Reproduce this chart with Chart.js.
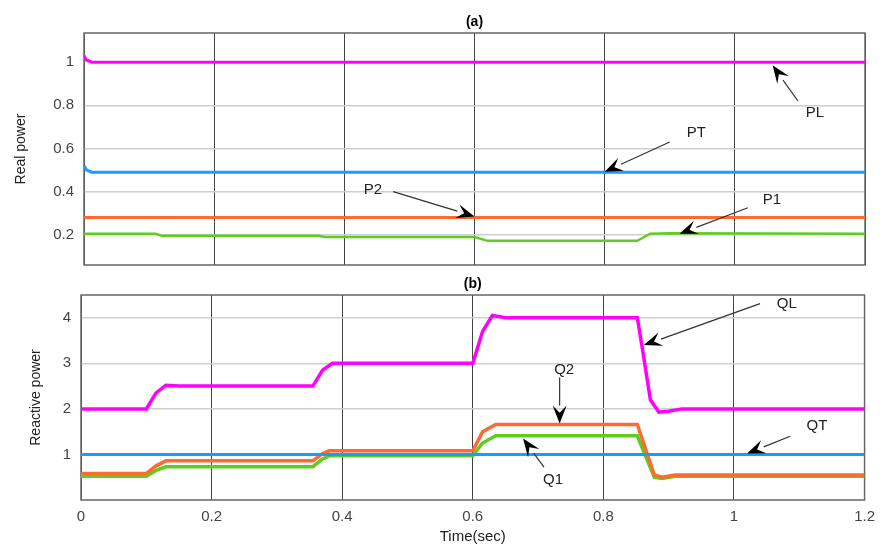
<!DOCTYPE html>
<html>
<head>
<meta charset="utf-8">
<script src="https://cdn.jsdelivr.net/npm/chart.js@4"></script>
<style>
  body { margin: 0; background: #fff; }
  #wrap { position: relative; width: 883px; height: 546px; }
  #chartA { position: absolute; left: 0; top: 0; }
  #chartB { position: absolute; left: 0; top: 270px; }
</style>
</head>
<body>
<div id="wrap">
  <canvas id="chartA" width="883" height="270"></canvas>
  <canvas id="chartB" width="883" height="276"></canvas>
</div>
<script>
// --- Data ---
const xTicks = [0, 0.2, 0.4, 0.6, 0.8, 1, 1.2];
const yTicksA = [0.2, 0.4, 0.6, 0.8, 1];
const yTicksB = [1, 2, 3, 4];

// (a) real power
const plT = [0, 0.004, 0.012, 1.2];
const plV = [1.03, 1.01, 1.0, 1.0];
const ptT = [0, 0.004, 0.012, 1.2];
const ptV = [0.52, 0.50, 0.49, 0.49];
const p2T = [0, 1.2];
const p2V = [0.28, 0.28];
const p1T = [0, 0.11, 0.12, 0.36, 0.37, 0.6, 0.62, 0.85, 0.87, 0.9, 1.2];
const p1V = [0.205, 0.205, 0.195, 0.195, 0.19, 0.19, 0.172, 0.172, 0.205, 0.207, 0.205];

// (b) reactive power
const qlT = [0, 0.1, 0.115, 0.13, 0.15, 0.355, 0.37, 0.385, 0.6, 0.615, 0.63, 0.65, 0.852, 0.86, 0.872, 0.885, 0.9, 0.92, 1.2];
const qlV = [2.0, 2.0, 2.35, 2.52, 2.5, 2.5, 2.85, 3.0, 3.0, 3.7, 4.05, 4.0, 4.0, 3.3, 2.2, 1.93, 1.95, 2.0, 2.0];
const qtT = [0, 1.2];
const qtV = [1.0, 1.0];
const q2T = [0, 0.1, 0.115, 0.13, 0.355, 0.37, 0.38, 0.6, 0.615, 0.635, 0.852, 0.865, 0.878, 0.89, 0.91, 1.2];
const q2V = [0.58, 0.58, 0.75, 0.86, 0.86, 1.02, 1.08, 1.08, 1.5, 1.66, 1.66, 1.1, 0.55, 0.5, 0.55, 0.55];
const q1T = [0, 0.1, 0.115, 0.13, 0.355, 0.37, 0.38, 0.6, 0.615, 0.635, 0.852, 0.865, 0.878, 0.89, 0.91, 1.2];
const q1V = [0.52, 0.52, 0.65, 0.73, 0.73, 0.9, 0.97, 0.97, 1.25, 1.41, 1.41, 0.95, 0.5, 0.47, 0.52, 0.52];

// labels + arrows: [text, labelX, labelY, tailX, tailY, headX, headY] in data units
const notesA = [
  ['PL', 1.123, 0.765, 1.097, 0.82, 1.058, 0.985],
  ['PT', 0.941, 0.67, 0.9, 0.63, 0.80, 0.492],
  ['P2', 0.444, 0.41, 0.475, 0.40, 0.60, 0.285],
  ['P1', 1.057, 0.36, 1.02, 0.325, 0.915, 0.205]
];
const notesB = [
  ['QL', 1.081, 4.31, 1.04, 4.31, 0.862, 3.4],
  ['QT', 1.127, 1.62, 1.086, 1.4, 1.02, 1.02],
  ['Q2', 0.74, 2.86, 0.733, 2.69, 0.733, 1.68],
  ['Q1', 0.723, 0.45, 0.709, 0.72, 0.677, 1.35]
];

const COLORS = { mag: '#ff00ff', blue: '#1a9bff', orange: '#ff6a30', green: '#5fcc20' };
const FONT = "'Liberation Sans', Arial, sans-serif";

function pts(t, v) { return t.map((x, i) => ({ x: x, y: v[i] })); }

function series(t, v, color, width) {
  return { data: pts(t, v), borderColor: color, borderWidth: width, pointRadius: 0, tension: 0, fill: false };
}

// --- Plugins ---
const frame = {
  id: 'frame',
  beforeDatasetsDraw(chart) {
    const a = chart.chartArea, ctx = chart.ctx;
    ctx.save();
    ctx.strokeStyle = '#666';
    ctx.lineWidth = 1.5;
    ctx.strokeRect(a.left, a.top, a.right - a.left, a.bottom - a.top);
    ctx.restore();
  },
  afterDraw(chart, args, opts) {
    const a = chart.chartArea, ctx = chart.ctx;
    ctx.save();
    ctx.fillStyle = '#000';
    ctx.font = 'bold 14px ' + FONT;
    ctx.textAlign = 'center';
    ctx.textBaseline = 'bottom';
    ctx.fillText(opts.title, (a.left + a.right) / 2, a.top - 4);
    ctx.restore();
  }
};

const arrows = {
  id: 'arrows',
  afterDatasetsDraw(chart, args, opts) {
    const ctx = chart.ctx, xs = chart.scales.x, ys = chart.scales.y;
    ctx.save();
    opts.notes.forEach(n => {
      const lx = xs.getPixelForValue(n[1]), ly = ys.getPixelForValue(n[2]);
      const tx = xs.getPixelForValue(n[3]), ty = ys.getPixelForValue(n[4]);
      const hx = xs.getPixelForValue(n[5]), hy = ys.getPixelForValue(n[6]);
      ctx.fillStyle = '#222';
      ctx.font = '15px ' + FONT;
      ctx.textAlign = 'center';
      ctx.textBaseline = 'middle';
      ctx.fillText(n[0], lx, ly);
      // shaft
      const ang = Math.atan2(hy - ty, hx - tx);
      const len = 18, half = 7;
      const bx = hx - len * Math.cos(ang), by = hy - len * Math.sin(ang);
      ctx.strokeStyle = '#333';
      ctx.lineWidth = 1.2;
      ctx.beginPath();
      ctx.moveTo(tx, ty);
      ctx.lineTo(bx, by);
      ctx.stroke();
      // head
      ctx.fillStyle = '#000';
      ctx.beginPath();
      ctx.moveTo(hx, hy);
      ctx.lineTo(bx + half * Math.sin(ang), by - half * Math.cos(ang));
      ctx.lineTo(hx - 0.6 * len * Math.cos(ang), hy - 0.6 * len * Math.sin(ang));
      ctx.lineTo(bx - half * Math.sin(ang), by + half * Math.cos(ang));
      ctx.closePath();
      ctx.fill();
    });
    ctx.restore();
  }
};

function fixTicks(list) {
  return scale => { scale.ticks = list.map(v => ({ value: v })); };
}

function fmt(v) { return String(+v.toFixed(1)); }

// y axis: fixed width and no label overflow padding, so the plot box lands where it should
function yFit(w) {
  return s => { s.width = w; s.paddingTop = 0; s.paddingBottom = 0; };
}

// --- Chart (a) ---
new Chart(document.getElementById('chartA'), {
  type: 'line',
  data: {
    datasets: [
      series(plT, plV, COLORS.mag, 3),
      series(ptT, ptV, COLORS.blue, 3),
      series(p2T, p2V, COLORS.orange, 3),
      series(p1T, p1V, COLORS.green, 2.5)
    ]
  },
  options: {
    responsive: false,
    animation: false,
    layout: { padding: { top: 33, right: 18, left: 0, bottom: 0 } },
    plugins: {
      legend: { display: false },
      tooltip: { enabled: false },
      frame: { title: '(a)' },
      arrows: { notes: notesA }
    },
    scales: {
      x: {
        type: 'linear', min: 0, max: 1.2,
        afterBuildTicks: fixTicks(xTicks),
        afterFit: s => { s.height = 5; s.paddingLeft = 0; s.paddingRight = 0; },
        ticks: { display: false },
        grid: { color: '#444', lineWidth: 1, drawTicks: false },
        border: { display: false }
      },
      y: {
        min: 0.06, max: 1.135,
        afterBuildTicks: fixTicks(yTicksA),
        afterFit: yFit(84),
        ticks: { color: '#444', font: { family: FONT, size: 15 }, padding: 10, callback: v => fmt(v) },
        grid: { color: '#cfcfcf', lineWidth: 1.5, drawTicks: false },
        border: { display: false },
        title: { display: true, text: 'Real power', color: '#222', font: { family: FONT, size: 14 }, padding: { top: 13, bottom: 0 } }
      }
    }
  },
  plugins: [frame, arrows]
});

// --- Chart (b) ---
new Chart(document.getElementById('chartB'), {
  type: 'line',
  data: {
    datasets: [
      series(qlT, qlV, COLORS.mag, 3.5),
      series(qtT, qtV, COLORS.blue, 3),
      series(q2T, q2V, COLORS.orange, 3.5),
      series(q1T, q1V, COLORS.green, 3.5)
    ]
  },
  options: {
    responsive: false,
    animation: false,
    layout: { padding: { top: 25, right: 15, left: 0, bottom: 0 } },
    plugins: {
      legend: { display: false },
      tooltip: { enabled: false },
      frame: { title: '(b)' },
      arrows: { notes: notesB }
    },
    scales: {
      x: {
        type: 'linear', min: 0, max: 1.2,
        afterBuildTicks: fixTicks(xTicks),
        afterFit: s => { s.height = 46; },
        ticks: { color: '#444', font: { family: FONT, size: 15 }, padding: 8, maxRotation: 0, callback: v => fmt(v) },
        grid: { color: '#444', lineWidth: 1, drawTicks: false },
        border: { display: false },
        title: { display: true, text: 'Time(sec)', color: '#222', font: { family: FONT, size: 15 }, padding: { top: 0, bottom: 0 } }
      },
      y: {
        min: 0, max: 4.5,
        afterBuildTicks: fixTicks(yTicksB),
        afterFit: yFit(81),
        ticks: { color: '#444', font: { family: FONT, size: 15 }, padding: 10, callback: v => fmt(v) },
        grid: { color: '#cfcfcf', lineWidth: 1.5, drawTicks: false },
        border: { display: false },
        title: { display: true, text: 'Reactive power', color: '#222', font: { family: FONT, size: 14 }, padding: { top: 28, bottom: 0 } }
      }
    }
  },
  plugins: [frame, arrows]
});
</script>
</body>
</html>
